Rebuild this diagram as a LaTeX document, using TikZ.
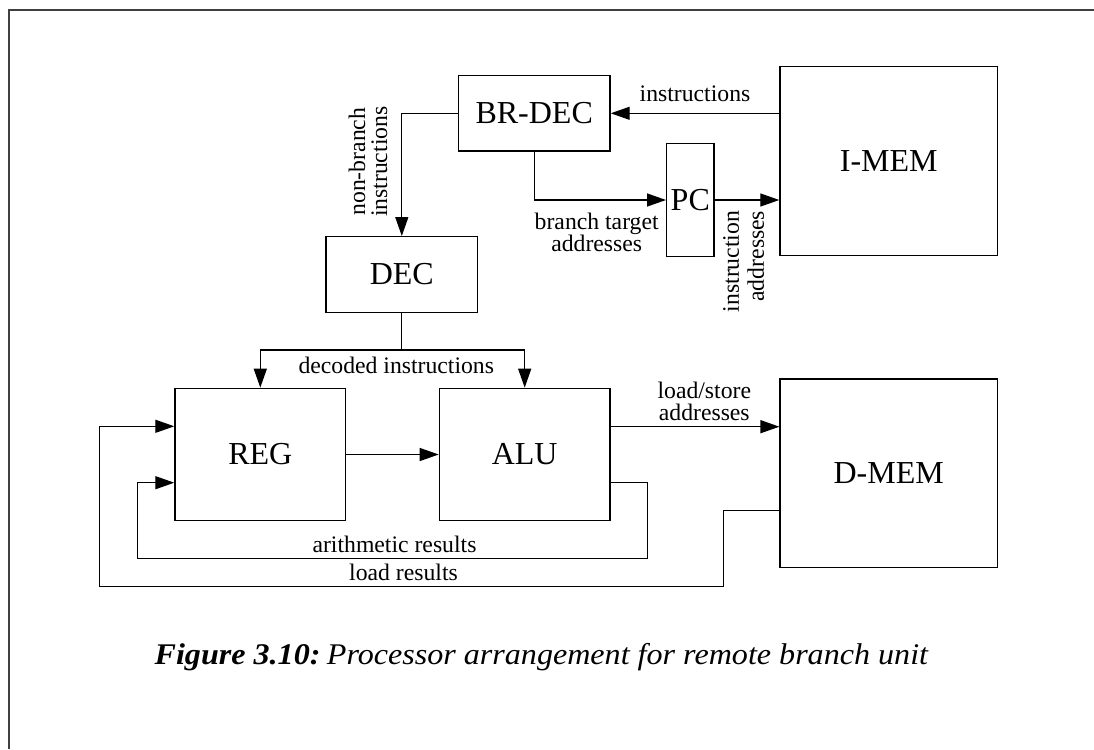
\documentclass[tikz,border=0pt]{standalone}
\usepackage{fontspec}
\setmainfont{Liberation Serif}
\usetikzlibrary{arrows.meta}
\begin{document}
\begin{tikzpicture}[x=1pt,y=-1pt,
  blk/.style={draw, line width=1.3pt, inner sep=0pt, font=\fontsize{32}{34}\selectfont},
  lbl/.style={inner sep=0pt, font=\fontsize{23.7}{22}\selectfont, align=center},
  wire/.style={line width=1.3pt},
  arr/.style={wire, -{Triangle[length=19pt,width=13pt]}},
  frameline/.style={line width=2pt, draw=black!75}]
\useasboundingbox (0,0) rectangle (1094,749);
% page frame
\draw[frameline] (9,749) -- (9,10) -- (1094,10);

% functional blocks
\node[blk, minimum width=151.7pt, minimum height=75.3pt] (brdec) at (534.2,113.3) {BR-DEC};
\node[blk, minimum width=151.7pt, minimum height=75.6pt] (dec)   at (401.8,274.5) {DEC};
\node[blk, minimum width=47.3pt,  minimum height=113.4pt] (pc)   at (690.3,200) {PC};
\node[blk, minimum width=217.7pt, minimum height=189pt]  (imem)  at (888.8,161.2) {I-MEM};
\node[blk, minimum width=170.7pt, minimum height=132.4pt] (reg)  at (260.3,454.5) {REG};
\node[blk, minimum width=170.7pt, minimum height=132.4pt] (alu)  at (524.7,454.5) {ALU};
\node[blk, minimum width=217.3pt, minimum height=188.3pt] (dmem) at (888.7,473.2) {D-MEM};

% instruction fetch path
\draw[arr] (brdec.east -| imem.west) -- (brdec.east);
\draw[arr] (brdec.west) -| (dec.north);
\draw[arr] (brdec.south) |- (pc.west);
\draw[arr] (pc.east) -- (pc.east -| imem.west);

% decoded instruction bus
\coordinate (bus) at (401.8,350);
\draw[wire] (dec.south) -- (bus);
\draw[arr] (bus) -| (reg.north);
\draw[arr] (bus) -| (alu.north);

% datapath
\draw[arr] (reg.east) -- (alu.west);
\draw[arr] ([yshift=27.8pt]alu.east) -- ([yshift=27.8pt]alu.east -| dmem.west);
\draw[arr] ([yshift=-28.2pt]alu.east) -- (647.7,482.7) -- (647.7,558.3)
  -- (137.3,558.3) -- (137.3,482.7) -- ([yshift=-28.2pt]reg.west);
\draw[arr] ([yshift=-37.5pt]dmem.west) -- (723.3,510.7) -- (723.3,586.7)
  -- (99.3,586.7) -- (99.3,426.3) -- ([yshift=28.2pt]reg.west);

% connector labels
\node[lbl, anchor=base] (linstr) at (695,101.7) {instructions};
\node[lbl, rotate=90] (lnonbr) at (368,161.7) {non-branch\\instructions};
\node[lbl] (lbta) at (596.7,232.5) {branch target\\addresses};
\node[lbl, rotate=90, align=right, font=\fontsize{23.7}{25}\selectfont] (liadr) at (743.7,261.5) {instruction\\addresses};
\node[lbl, anchor=base] (ldec) at (396.3,373.3) {decoded instructions};
\node[lbl] (lls) at (704.3,401.5) {load/store\\addresses};
\node[lbl, anchor=base] (lar) at (394.5,552.7) {arithmetic results};
\node[lbl, anchor=base] (llr) at (403.5,580.7) {load results};

% caption
\node[inner sep=0pt, anchor=base, font=\fontsize{30}{32}\selectfont] (cap) at (541.7,664)
  {\scalebox{1.07}[1]{\textbf{\textit{Figure 3.10:}}\hspace{0.2em}\textit{Processor arrangement for remote branch unit}}};
\end{tikzpicture}
\end{document}
